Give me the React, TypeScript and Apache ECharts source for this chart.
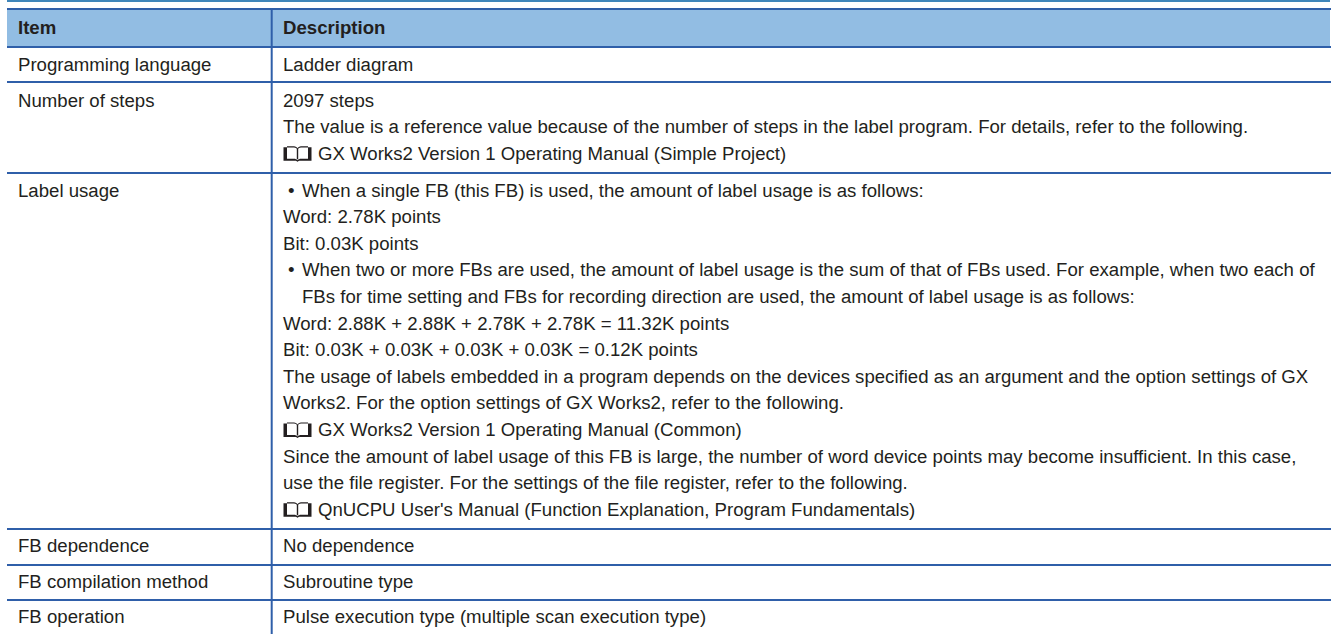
import React, { useEffect, useRef } from "react";
import * as echarts from "echarts";

const headers = ["Item", "Description"];
const items = [
  "Programming language",
  "Number of steps",
  "Label usage",
  "FB dependence",
  "FB compilation method",
  "FB operation",
];
// prefix "*" = bullet line, ">" = indented continuation, "@" = manual-reference line with book icon
const descriptions = [
  ["Ladder diagram"],
  [
    "2097 steps",
    "The value is a reference value because of the number of steps in the label program. For details, refer to the following.",
    "@GX Works2 Version 1 Operating Manual (Simple Project)",
  ],
  [
    "*When a single FB (this FB) is used, the amount of label usage is as follows:",
    "Word: 2.78K points",
    "Bit: 0.03K points",
    "*When two or more FBs are used, the amount of label usage is the sum of that of FBs used. For example, when two each of",
    ">FBs for time setting and FBs for recording direction are used, the amount of label usage is as follows:",
    "Word: 2.88K + 2.88K + 2.78K + 2.78K = 11.32K points",
    "Bit: 0.03K + 0.03K + 0.03K + 0.03K = 0.12K points",
    "The usage of labels embedded in a program depends on the devices specified as an argument and the option settings of GX",
    "Works2. For the option settings of GX Works2, refer to the following.",
    "@GX Works2 Version 1 Operating Manual (Common)",
    "Since the amount of label usage of this FB is large, the number of word device points may become insufficient. In this case,",
    "use the file register. For the settings of the file register, refer to the following.",
    "@QnUCPU User's Manual (Function Explanation, Program Fundamentals)",
  ],
  ["No dependence"],
  ["Subroutine type"],
  ["Pulse execution type (multiple scan execution type)"],
];
const rowLines = [82, 173, 529, 565, 600];
const rowTextOffsets = [16.5, 18, 17, 16.5, 16.5, 16.5];

const BOOK =
  "M0.5 2 L0.5 15.5 L12 15.5 C13 15.5 14 16 14.5 16.5 C15 16 16 15.5 17 15.5 L28.5 15.5 L28.5 2 L25 2 L25 13.5 L18 13.5 C16.5 13.5 15.5 14 14.5 15 C13.5 14 12.5 13.5 11 13.5 L4 13.5 L4 2 Z " +
  "M4 1 L11 1 C12.5 1 14 2 14.5 3 C15 2 16.5 1 18 1 L25 1 L25 2.2 L18 2.2 C16.5 2.2 15.2 3 15.2 4 L15.2 14 L13.8 14 L13.8 4 C13.8 3 12.5 2.2 11 2.2 L4 2.2 Z";
echarts.graphic.registerShape("bookIcon", echarts.graphic.extendPath(BOOK as any, {}) as any);

const FONT = "Liberation Sans";
const INK = "#231f20";
const RULE = "#2f5fa9";

export default function App() {
  const ref = useRef<HTMLDivElement>(null);
  useEffect(() => {
    document.body.style.margin = "0";
    document.body.style.overflow = "hidden";
    const chart = echarts.init(ref.current!, undefined, { renderer: "svg" });
    const L = 7, R = 1330, COL = 271.7, FS = 18.62, LH = 26.6;
    const els: any[] = [];
    const rect = (x: number, y: number, w: number, h: number, fill: string) =>
      els.push({ type: "rect", shape: { x, y, width: w, height: h }, style: { fill } });
    const text = (x: number, y: number, t: string, bold = false) =>
      els.push({
        type: "text",
        x,
        y,
        style: {
          text: t,
          fill: INK,
          font: `${bold ? "bold " : ""}${FS}px "${FONT}"`,
          verticalAlign: "middle",
        },
      });

    rect(L, 0, R - L, 2, "#3f86ba");
    rect(L, 10, R - L, 37, "#92bde3");
    rect(L, 8, R - L + 1, 2, RULE);
    rect(L, 46, R - L + 1, 2, RULE);
    rowLines.forEach((y) => rect(L, y - 1, R - L + 1, 2, RULE));
    rect(COL - 1, 8, 2, 626, RULE);

    text(18, 27, headers[0], true);
    text(283, 27, headers[1], true);

    const rowTops = [48, ...rowLines];
    items.forEach((item, i) => {
      const y0 = rowTops[i] + rowTextOffsets[i];
      text(18, y0, item);
      descriptions[i].forEach((line, j) => {
        const y = y0 + j * LH;
        const kind = line[0];
        if (kind === "*") {
          text(288, y, "•");
          text(302, y, line.slice(1));
        } else if (kind === ">") {
          text(302, y, line.slice(1));
        } else if (kind === "@") {
          els.push({ type: "bookIcon", x: 283, y: y - 8, style: { fill: INK } });
          text(318, y, line.slice(1));
        } else {
          text(283, y, line);
        }
      });
    });

    chart.setOption({ animation: false, graphic: { elements: els } });
    return () => chart.dispose();
  }, []);
  return <div ref={ref} style={{ width: 1331, height: 634 }} />;
}
